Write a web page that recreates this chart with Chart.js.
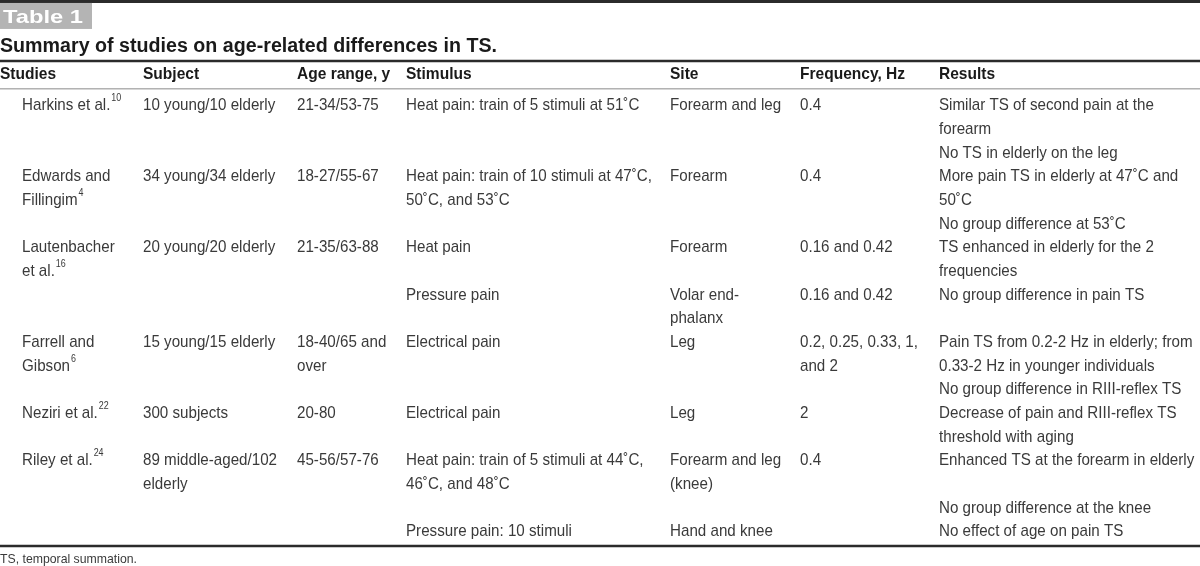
<!DOCTYPE html>
<html><head><meta charset="utf-8">
<script src="https://cdn.jsdelivr.net/npm/chart.js@4.4.1/dist/chart.umd.min.js"></script>
<style>html,body{margin:0;padding:0;background:#fff;overflow:hidden}#c{display:block}</style>
</head><body>
<canvas id="c" width="1200" height="566"></canvas>
<script>
// ---- data (one entry per text line of the table body) ----
const tableLabel = "Table 1";
const tableTitle = "Summary of studies on age-related differences in TS.";
const footnote = "TS, temporal summation.";
const headers = ["Studies","Subject","Age range, y","Stimulus","Site","Frequency, Hz","Results"];
const studies = ["Harkins et al.^10","","","Edwards and","Fillingim^4","","Lautenbacher","et al.^16","","","Farrell and","Gibson^6","","Neziri et al.^22","","Riley et al.^24","","",""];
const subjects = ["10 young/10 elderly","","","34 young/34 elderly","","","20 young/20 elderly","","","","15 young/15 elderly","","","300 subjects","","89 middle-aged/102","elderly","",""];
const ageRanges = ["21-34/53-75","","","18-27/55-67","","","21-35/63-88","","","","18-40/65 and","over","","20-80","","45-56/57-76","","",""];
const stimuli = ["Heat pain: train of 5 stimuli at 51˚C","","","Heat pain: train of 10 stimuli at 47˚C,","50˚C, and 53˚C","","Heat pain","","Pressure pain","","Electrical pain","","","Electrical pain","","Heat pain: train of 5 stimuli at 44˚C,","46˚C, and 48˚C","","Pressure pain: 10 stimuli"];
const sites = ["Forearm and leg","","","Forearm","","","Forearm","","Volar end-","phalanx","Leg","","","Leg","","Forearm and leg","(knee)","","Hand and knee"];
const frequencies = ["0.4","","","0.4","","","0.16 and 0.42","","0.16 and 0.42","","0.2, 0.25, 0.33, 1,","and 2","","2","","0.4","","",""];
const results = ["Similar TS of second pain at the","forearm","No TS in elderly on the leg","More pain TS in elderly at 47˚C and","50˚C","No group difference at 53˚C","TS enhanced in elderly for the 2","frequencies","No group difference in pain TS","","Pain TS from 0.2-2 Hz in elderly; from","0.33-2 Hz in younger individuals","No group difference in RIII-reflex TS","Decrease of pain and RIII-reflex TS","threshold with aging","Enhanced TS at the forearm in elderly","","No group difference at the knee","No effect of age on pain TS"];

// ---- layout (x in canvas units, y in text-line units) ----
const columnX = [22,143,297,406,670,800,939];
const headerX = [0,143,297,406,670,800,939];
const yLabel = -3.72, yTitle = -2.49, yHeader = -1.31, yFoot = 19.18;
const rules = [{y:-4.33,w:3,c:'#2b2b2b'},{y:-1.82,w:2.5,c:'#2b2b2b'},{y:-0.64,w:1,c:'#8a8a8a'},{y:18.67,w:2.5,c:'#2b2b2b'}];
const TEXT_DY = 1.5;
const BODY_FONT = '17px "Liberation Sans", Arial, sans-serif';
const HEAD_FONT = 'bold 17px "Liberation Sans", Arial, sans-serif';
const TITLE_FONT = 'bold 20px "Liberation Sans", Arial, sans-serif';
const LABEL_FONT = 'bold 19px "Liberation Sans", Arial, sans-serif';
const SUP_FONT = '10px "Liberation Sans", Arial, sans-serif';
const FOOT_FONT = '13px "Liberation Sans", Arial, sans-serif';

const columns = [studies,subjects,ageRanges,stimuli,sites,frequencies,results];

function drawCond(ctx, str, x, y, font, sx, color){
  const parts = str.split('^');
  ctx.save();
  ctx.translate(x, y + TEXT_DY);
  ctx.scale(sx, 1);
  ctx.font = font; ctx.fillStyle = color; ctx.textBaseline = 'middle'; ctx.textAlign = 'left';
  ctx.fillText(parts[0], 0, 0);
  if (parts[1]) {
    const w = ctx.measureText(parts[0]).width;
    ctx.font = SUP_FONT;
    ctx.fillText(parts[1], w + 1, -7);
  }
  ctx.restore();
}
function fitScale(ctx, font, text, target){
  ctx.save(); ctx.font = font; const w = ctx.measureText(text).width; ctx.restore();
  return target / w;
}

const tablePlugin = {
  id: 'tableText',
  afterDatasetsDraw(chart){
    const ctx = chart.ctx, xs = chart.scales.x, ys = chart.scales.y;
    const bodySx = fitScale(ctx, BODY_FONT, "Heat pain: train of 10 stimuli at 47˚C,", 246);
    const headSx = fitScale(ctx, HEAD_FONT, "Frequency, Hz", 105);
    const footSx = fitScale(ctx, FOOT_FONT, footnote, 137);
    const titleSx = fitScale(ctx, TITLE_FONT, tableTitle, 497);
    const labelSx = fitScale(ctx, LABEL_FONT, tableLabel, 80);

    rules.forEach(r => {
      const py = ys.getPixelForValue(r.y);
      ctx.save(); ctx.strokeStyle = r.c; ctx.lineWidth = r.w;
      ctx.beginPath(); ctx.moveTo(xs.getPixelForValue(0), py); ctx.lineTo(xs.getPixelForValue(1200), py); ctx.stroke();
      ctx.restore();
    });
    const ly = ys.getPixelForValue(yLabel);
    ctx.save(); ctx.fillStyle = '#b4b4b4'; ctx.fillRect(xs.getPixelForValue(0), ly - 13, 92, 26); ctx.restore();
    drawCond(ctx, tableLabel, 3, ly + 0.5, LABEL_FONT, labelSx, '#ffffff');
    drawCond(ctx, tableTitle, 0, ys.getPixelForValue(yTitle), TITLE_FONT, titleSx, '#1a1a1a');
    headers.forEach((h, c) => drawCond(ctx, h, xs.getPixelForValue(headerX[c]), ys.getPixelForValue(yHeader), HEAD_FONT, headSx, '#1a1a1a'));
    chart.data.datasets.forEach((ds, di) => {
      const meta = chart.getDatasetMeta(di);
      meta.data.forEach((pt, i) => drawCond(ctx, ds.data[i].t, pt.x, pt.y, BODY_FONT, bodySx, '#3a3a3a'));
    });
    drawCond(ctx, footnote, 0, ys.getPixelForValue(yFoot), FOOT_FONT, footSx, '#3a3a3a');
  }
};

const datasets = columns.map((col, c) => ({
  label: headers[c],
  data: col.map((t, i) => t ? {x: columnX[c], y: i, t} : null).filter(Boolean),
  pointRadius: 0, showLine: false
}));

new Chart(document.getElementById('c').getContext('2d'), {
  type: 'scatter',
  data: {datasets},
  options: {
    responsive: false, animation: false, events: [],
    layout: {padding: 0},
    plugins: {legend: {display: false}, tooltip: {enabled: false}},
    scales: {
      x: {type: 'linear', display: false, min: 0, max: 1200},
      y: {type: 'linear', display: false, min: -4.394, max: 19.52, reverse: true}
    }
  },
  plugins: [tablePlugin]
});
</script>
</body></html>
